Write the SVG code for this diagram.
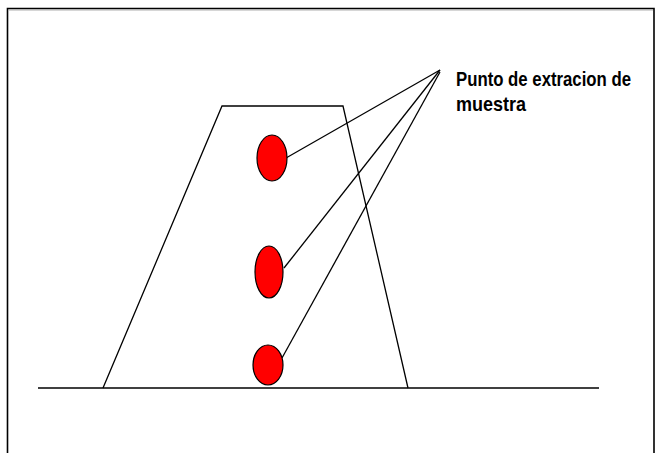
<svg xmlns="http://www.w3.org/2000/svg" width="659" height="453" viewBox="0 0 659 453">
<style>
.ln{stroke:#000;stroke-width:1.3;fill:none}
.pt{fill:#ff0000;stroke:#000;stroke-width:1.2}
.lbl{font-family:"Liberation Sans",Arial,sans-serif;font-weight:bold;font-size:21px;fill:#000}
</style>
<rect width="659" height="453" fill="#fff"/>
<g id="frame">
<polyline points="7.5,453 7.5,8.5 654,8.5 654,453" fill="none" stroke="#000" stroke-width="1.6"/>
<line x1="9" y1="10" x2="653" y2="10" stroke="#999" stroke-width="0.8"/>
</g>
<g id="ground"><line class="ln" x1="38" y1="388" x2="599" y2="388" stroke-width="1.6"/></g>
<g id="dam"><polyline class="ln" points="103,388 222,106 343,106 408,388"/></g>
<g id="connectors">
<line class="ln" x1="440" y1="70" x2="286" y2="158"/>
<line class="ln" x1="440" y1="70" x2="284" y2="268"/>
<line class="ln" x1="440" y1="72" x2="282" y2="358"/>
</g>
<g id="p1"><ellipse class="pt" cx="272" cy="158" rx="15" ry="23"/></g>
<g id="p2"><ellipse class="pt" cx="269" cy="272" rx="14" ry="26"/></g>
<g id="p3"><ellipse class="pt" cx="268" cy="365" rx="15" ry="20"/></g>
<g id="label">
<text class="lbl" x="456" y="86" textLength="175" lengthAdjust="spacingAndGlyphs">Punto de extracion de</text>
<text class="lbl" x="456" y="111" textLength="70" lengthAdjust="spacingAndGlyphs">muestra</text>
</g>
</svg>
